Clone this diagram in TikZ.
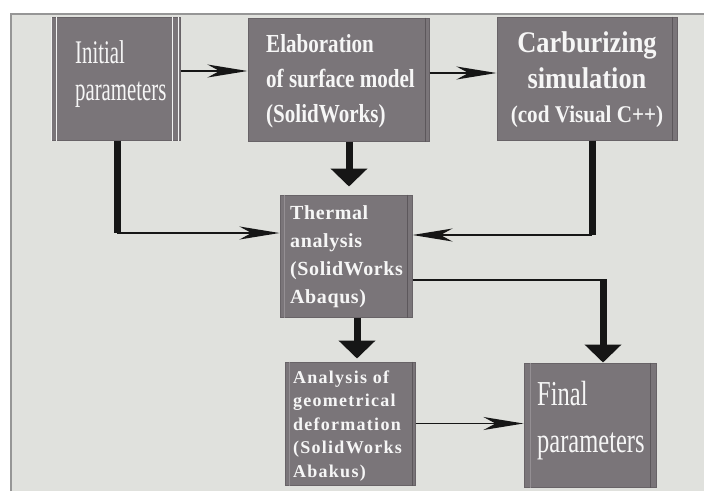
\documentclass[tikz,border=0pt]{standalone}
\usepackage{fontspec}
\usetikzlibrary{arrows.meta,calc}
\setmainfont{Liberation Serif}
\newfontfamily\condreg[FakeStretch=0.63]{Liberation Serif}
\newfontfamily\condbold[FakeStretch=0.88]{Liberation Serif}
\newfontfamily\elabfont[FakeStretch=0.81]{Liberation Serif}
\newfontfamily\finalfont[FakeStretch=0.70]{Liberation Serif}
\newfontfamily\spacedA[LetterSpace=3]{Liberation Serif}
\newfontfamily\spacedB[LetterSpace=7]{Liberation Serif}
\definecolor{bg}{RGB}{224,225,221}
\definecolor{boxfill}{RGB}{122,117,121}
\definecolor{boxedge}{RGB}{104,99,103}
\definecolor{darkedge}{RGB}{92,87,91}
\definecolor{lightedge}{RGB}{148,143,147}
\definecolor{frameline}{RGB}{150,150,150}
\definecolor{txt}{RGB}{246,246,246}
\definecolor{ink}{RGB}{22,22,22}
\tikzset{
  box/.style={draw=boxedge, line width=1pt, fill=boxfill, inner sep=0pt},
  lbl/.style={text=txt, inner sep=0pt, anchor=base west, align=left},
  thinline/.style={draw=ink, line width=1.6pt},
  thinarrow/.style={draw=ink, line width=1.6pt, -{Stealth[length=40pt,width=13pt,inset=12pt]}},
  thickline/.style={draw=ink, line width=7pt},
  thickarrow/.style={draw=ink, line width=7pt, -{Triangle[length=18pt,width=36pt]}},
  darkline/.style={draw=darkedge, line width=1.5pt},
  lightline/.style={draw=lightedge, line width=1pt},
  whiteline/.style={draw=white!90!gray, line width=1.4pt}
}
\begin{document}
\begin{tikzpicture}[x=1pt,y=-1pt]
\useasboundingbox (0,0) rectangle (704,491);
\fill[white] (0,0) rectangle (704,491);
\fill[bg] (11,14) rectangle (704,491);
\draw[frameline, line width=1.8pt] (11,491) -- (11,14) -- (704,14);

% boxes
\node[box, minimum width=129pt, minimum height=123pt] (init)  at (115.5,78.5) {};
\node[box, minimum width=181pt, minimum height=123pt] (elab)  at (338.5,79.5) {};
\node[box, minimum width=180pt, minimum height=123pt] (carb)  at (587,78.5) {};
\node[box, minimum width=132pt, minimum height=122pt] (therm) at (346,256) {};
\node[box, minimum width=130pt, minimum height=123pt] (anal)  at (350,423.5) {};
\node[box, minimum width=132pt, minimum height=124pt] (final) at (590,425) {};

% box edge details
\draw[whiteline] ([xshift=1pt]init.north west) -- ([xshift=1pt]init.south west);
\draw[whiteline] ([xshift=6pt]init.north west) -- ([xshift=6pt]init.south west);
\draw[whiteline] ([xshift=-2pt]init.north east) -- ([xshift=-2pt]init.south east);
\draw[whiteline] ([xshift=-8pt]init.north east) -- ([xshift=-8pt]init.south east);
\draw[darkline] ([xshift=-4pt]elab.north east) -- ([xshift=-4pt]elab.south east);
\draw[darkline] ([xshift=-5pt]carb.north east) -- ([xshift=-5pt]carb.south east);
\draw[darkline] ([xshift=-5pt]therm.north east) -- ([xshift=-5pt]therm.south east);
\draw[darkline] ([xshift=-3pt]anal.north east) -- ([xshift=-3pt]anal.south east);
\draw[darkline] ([xshift=-6pt]final.north east) -- ([xshift=-6pt]final.south east);
\draw[lightline] ([xshift=5pt]therm.north west) -- ([xshift=5pt]therm.south west);
\draw[lightline] ([xshift=5pt]anal.north west) -- ([xshift=5pt]anal.south west);
\draw[lightline] ([xshift=7pt]final.north west) -- ([xshift=7pt]final.south west);

% texts (anchored at the baseline of their last line)
\node[lbl, font=\condreg\fontsize{33}{37}\selectfont] (tinit) at (75,100) {Initial\\parameters};
\node[lbl, font=\elabfont\bfseries\fontsize{26}{35}\selectfont] (telab) at (266,122) {Elaboration\\of surface model\\(SolidWorks)};
\node[lbl, anchor=base, align=center, font=\condbold\bfseries\fontsize{30}{36}\selectfont] (tcarb) at (587,122) {Carburizing\\simulation\\[-2pt]{\fontsize{24}{30}\selectfont (cod Visual C++)}};
\node[lbl, font=\spacedA\bfseries\fontsize{20}{27.7}\selectfont] (ttherm) at (290,303) {Thermal\\analysis\\(SolidWorks\\Abaqus)};
\node[lbl, font=\spacedB\bfseries\fontsize{18}{23.5}\selectfont] (tanal) at (293,477) {Analysis of\\geometrical\\deformation\\(SolidWorks\\Abakus)};
\node[lbl, font=\finalfont\fontsize{35}{47}\selectfont] (tfinal) at (537,452) {Final\\parameters};

% connector corners
\coordinate (ia) at (117,233);
\coordinate (ca) at (592,235);
\coordinate (ta) at (603,280);
\coordinate (ea) at (349,0);
\coordinate (ha) at (357,0);

% connectors
\draw[thinarrow] ([yshift=7.5pt]init.east) -- ([yshift=7.5pt]init.east -| elab.west);
\draw[thinarrow] ([yshift=6.5pt]elab.east) -- ([yshift=6.5pt]elab.east -| carb.west);
\draw[thickarrow, shorten >=8pt] (elab.south -| ea) -- (therm.north -| ea);
\draw[thickline] (init.south -| ia) -- (ia);
\draw[thinarrow] (ia) -- (ia -| therm.west);
\draw[thickline] (carb.south -| ca) -- (ca);
\draw[thinarrow] (ca) -- (ca -| therm.east);
\draw[thinline] (therm.east |- ta) -- (ta);
\draw[thickarrow, shorten <=-0.8pt] (ta) -- (ta |- final.north);
\draw[thickarrow, shorten >=3pt] (therm.south -| ha) -- (anal.north -| ha);
\draw[thinarrow] (anal.east) -- (anal.east -| final.west);
\end{tikzpicture}
\end{document}
